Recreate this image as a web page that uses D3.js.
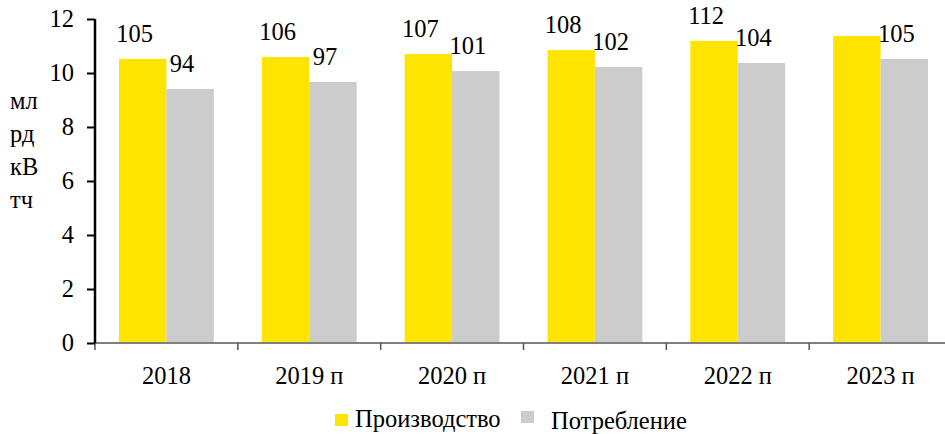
<!DOCTYPE html>
<html>
<head>
<meta charset="utf-8">
<script src="https://cdn.jsdelivr.net/npm/d3@7"></script>
<style>
  body { margin: 0; background: #fff; }
  .ser { font-family: "Liberation Serif", serif; }
</style>
</head>
<body>
<div id="chart"></div>
<script>
var years = ["2018", "2019 п", "2020 п", "2021 п", "2022 п", "2023 п"];
var production = [10.52, 10.59, 10.70, 10.85, 11.19, 11.37];
var consumption = [9.41, 9.67, 10.07, 10.22, 10.37, 10.52];
var productionLabels = ["105", "106", "107", "108", "112", ""];
var consumptionLabels = ["94", "97", "101", "102", "104", "105"];
var yTicks = [0, 2, 4, 6, 8, 10, 12];
var seriesNames = ["Производство", "Потребление"];
var unitLines = ["мл", "рд", "кВ", "тч"];

var W = 945, H = 434;
var x0 = 95, x1 = 952, yTop = 19, yBottom = 343;
var colors = ["#ffe400", "#cccccc"];
var fs = 24.5, font = "Liberation Serif";

var svg = d3.select("#chart").append("svg")
    .attr("width", W)
    .attr("height", H)
    .attr("font-family", font);

function serif(sel) {
  return sel.attr("class", "ser")
    .attr("font-family", font)
    .attr("font-size", fs)
    .style("font-family", "'Liberation Serif', serif")
    .style("font-size", fs + "px");
}

var x = d3.scaleBand()
    .domain(years)
    .range([x0, x1])
    .paddingInner(0.336)
    .paddingOuter(0.168);

var y = d3.scaleLinear()
    .domain([0, 12])
    .range([yBottom, yTop]);

var bw = x.bandwidth() / 2;

var groups = svg.selectAll(".grp")
    .data(years)
  .enter().append("g")
    .attr("class", "grp")
    .attr("transform", function(d) { return "translate(" + x(d) + ",0)"; });

// bars
[production, consumption].forEach(function(vals, s) {
  groups.append("rect")
    .attr("x", s * bw)
    .attr("y", function(d, i) { return y(vals[i]); })
    .attr("width", bw)
    .attr("height", function(d, i) { return yBottom - y(vals[i]); })
    .attr("fill", colors[s]);
});

// value labels
[[production, productionLabels], [consumption, consumptionLabels]].forEach(function(pair, s) {
  groups.append("text")
    .call(serif)
    .attr("x", s * bw + bw / 2 - 8)
    .attr("y", function(d, i) { return y(pair[0][i]) - 17; })
    .attr("text-anchor", "middle")
    .attr("fill", "#000")
    .text(function(d, i) { return pair[1][i]; });
});

// x axis
var gx = svg.append("g")
    .attr("transform", "translate(0," + yBottom + ")")
    .call(d3.axisBottom(x).tickSize(0).tickPadding(24))
    .attr("font-family", font)
    .attr("font-size", fs);
gx.select(".domain").attr("stroke", "#808080").attr("stroke-width", 2)
    .attr("d", "M" + x0 + ",0H" + W);
gx.selectAll(".tick text").call(serif).attr("fill", "#000");
// separators between categories
svg.selectAll(".sep")
    .data(years)
  .enter().append("line")
    .attr("x1", function(d) { return x(d) - x.step() * x.paddingInner() / 2; })
    .attr("x2", function(d) { return x(d) - x.step() * x.paddingInner() / 2; })
    .attr("y1", yBottom)
    .attr("y2", yBottom + 7)
    .attr("stroke", "#555")
    .attr("stroke-width", 1.5);

// y axis
var gy = svg.append("g")
    .attr("transform", "translate(" + x0 + ",0)")
    .call(d3.axisLeft(y).tickValues(yTicks).tickSize(8).tickPadding(13))
    .attr("font-family", font)
    .attr("font-size", fs);
gy.select(".domain").attr("stroke", "#000").attr("stroke-width", 2.5)
    .attr("d", "M0," + yTop + "V" + yBottom);
gy.selectAll(".tick line").attr("stroke", "#000").attr("stroke-width", 2);
gy.selectAll(".tick text").call(serif).attr("fill", "#000");

// unit label
svg.append("text")
    .call(serif)
    .selectAll("tspan")
    .data(unitLines)
  .enter().append("tspan")
    .attr("x", 10)
    .attr("y", function(d, i) { return 109 + i * 33; })
    .text(function(d) { return d; });

// legend
var legendItems = [
  { name: seriesNames[0], color: colors[0], sx: 335, sy: 414, tx: 355, ty: 427 },
  { name: seriesNames[1], color: colors[1], sx: 521, sy: 411, tx: 551, ty: 429 }
];
var lg = svg.selectAll(".legend")
    .data(legendItems)
  .enter().append("g")
    .attr("class", "legend");
lg.append("rect")
    .attr("x", function(d) { return d.sx; })
    .attr("y", function(d) { return d.sy; })
    .attr("width", 13)
    .attr("height", 12)
    .attr("fill", function(d) { return d.color; });
lg.append("text")
    .call(serif)
    .attr("x", function(d) { return d.tx; })
    .attr("y", function(d) { return d.ty; })
    .text(function(d) { return d.name; });
</script>
</body>
</html>
